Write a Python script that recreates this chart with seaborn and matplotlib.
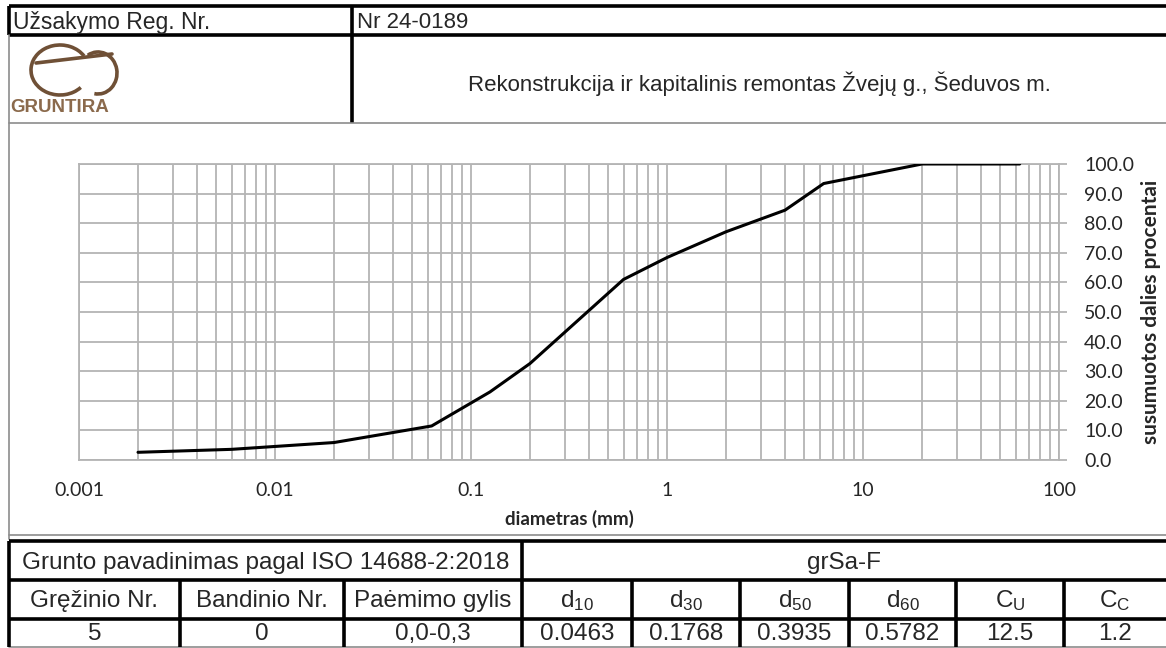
import matplotlib.pyplot as plt
from matplotlib.patches import Arc
from matplotlib.ticker import FixedLocator, LogLocator, FuncFormatter, NullFormatter
import seaborn as sns
import pandas as pd

W, H = 1166, 648

# grain size curve
sizes = [0.002, 0.006, 0.02, 0.063, 0.125, 0.2, 0.6, 1, 2, 4, 6.3, 20, 63]
passing = [2.6, 3.6, 5.9, 11.5, 23.0, 32.6, 61.0, 68.4, 77.1, 84.4, 93.4, 100.0, 100.0]

x_ticks = [0.001, 0.01, 0.1, 1, 10, 100]
y_ticks = [0, 10, 20, 30, 40, 50, 60, 70, 80, 90, 100]

# header / table texts
order_label = "Užsakymo Reg. Nr."
order_no = "Nr 24-0189"
project = "Rekonstrukcija ir kapitalinis remontas Žvejų g., Šeduvos m."
soil_label = "Grunto pavadinimas pagal ISO 14688-2:2018"
soil_name = "grSa-F"
col_headers = ["Gręžinio Nr.", "Bandinio Nr.", "Paėmimo gylis",
               "d$_{10}$", "d$_{30}$", "d$_{50}$", "d$_{60}$", "C$_{U}$", "C$_{C}$"]
col_values = ["5", "0", "0,0-0,3", "0.0463", "0.1768", "0.3935", "0.5782", "12.5", "1.2"]

sns.set_theme(style='white')
plt.rcParams['font.family'] = ['Liberation Sans', 'DejaVu Sans']
plt.rcParams['mathtext.fontset'] = 'custom'
plt.rcParams['mathtext.rm'] = 'Liberation Sans'
plt.rcParams['mathtext.it'] = 'Liberation Sans'

fig = plt.figure(figsize=(W / 100, H / 100), dpi=100)
fig.patch.set_facecolor('white')

# overlay in pixel coordinates for the report frame
ov = fig.add_axes([0, 0, 1, 1])
ov.set_xlim(0, W)
ov.set_ylim(H, 0)
ov.axis('off')

thick = dict(color='black', lw=2.6, solid_capstyle='butt')
thin = dict(color='#8c8c8c', lw=1.2)

# header
ov.plot([9, W], [6, 6], **thick)
ov.plot([9, W], [35, 35], **thick)
ov.plot([9, 9], [6, 35], **thick)
ov.plot([352, 352], [6, 123], **thick)
ov.plot([9, W], [123, 123], **thin)
ov.plot([9, 9], [35, 539], **thin)
ov.plot([9, W], [535, 535], **thin)
ov.text(13, 22, order_label, fontsize=16.5, va='center', ha='left')
ov.text(357, 22, order_no, fontsize=16, va='center', ha='left')
ov.text(759, 84, project, fontsize=16, va='center', ha='center')

# logo
brown = '#6f5036'
ov.add_patch(Arc((60, 70), 58, 50, theta1=40, theta2=330, color=brown, lw=2.6))
ov.add_patch(Arc((98, 73), 38, 42, theta1=-120, theta2=100, color=brown, lw=2.6))
ov.plot([36, 112], [63, 54], color=brown, lw=2.6)
ov.text(10, 107, "GRUNTIRA", fontsize=13.5, fontweight='bold', color='#8b6a4c',
        va='center', ha='left')

# bottom table
edges = [9, 180, 344, 522, 632, 740, 849, 956, 1064, W]
ov.plot([9, W], [541, 541], **thick)
ov.plot([9, W], [580, 580], **thick)
ov.plot([9, W], [619, 619], **thick)
ov.plot([9, W], [647, 647], **thin)
ov.plot([9, 9], [541, 647], **thick)
ov.plot([522, 522], [541, 580], **thick)
for xe in edges[1:-1]:
    ov.plot([xe, xe], [580, 647], **thick)
ov.text((9 + 522) / 2, 563, soil_label, fontsize=17.5, va='center', ha='center')
ov.text((522 + W) / 2, 563, soil_name, fontsize=17.5, va='center', ha='center')
for i, (hdr, val) in enumerate(zip(col_headers, col_values)):
    xc = (edges[i] + edges[i + 1]) / 2
    ov.text(xc, 601, hdr, fontsize=17.5, va='center', ha='center')
    ov.text(xc, 634, val, fontsize=17.5, va='center', ha='center')

# chart
ax = fig.add_axes([79 / W, (H - 460) / H, 980 / W, 296 / H])
df = pd.DataFrame({'d': sizes, 'p': passing})
sns.lineplot(data=df, x='d', y='p', ax=ax, color='black', lw=2.2, zorder=5)
ax.set_xscale('log')
ax.set_xlim(0.001, 100)
ax.set_ylim(0, 100)

grid_c = '#b4b4b4'
ax.xaxis.set_major_locator(FixedLocator(x_ticks))
ax.xaxis.set_minor_locator(LogLocator(base=10, subs=range(2, 10), numticks=20))
ax.xaxis.set_major_formatter(FuncFormatter(lambda v, p: '{:g}'.format(v)))
ax.xaxis.set_minor_formatter(NullFormatter())
ax.set_yticks(y_ticks)
ax.yaxis.set_major_formatter(FuncFormatter(lambda v, p: '{:.1f}'.format(v)))
ax.yaxis.tick_right()
ax.yaxis.set_label_position('right')
ax.grid(which='both', axis='x', color=grid_c, lw=1.3)
ax.grid(which='major', axis='y', color=grid_c, lw=1.3)
for s in ax.spines.values():
    s.set_color(grid_c)
    s.set_linewidth(1.3)
ax.tick_params(axis='x', which='major', direction='out', length=6, width=1.3,
               color=grid_c, pad=10, labelsize=14, labelfontfamily='Lato')
ax.tick_params(axis='x', which='minor', length=0)
ax.tick_params(axis='y', which='major', direction='out', length=6, width=1.3,
               color=grid_c, pad=12, labelsize=14, labelfontfamily='Lato',
               right=True, left=False)
ax.set_xlabel('diametras (mm)', fontsize=13.5, fontweight='bold', family='Lato', labelpad=8)
ax.set_ylabel('susumuotos dalies procentai', fontsize=15, fontweight='bold',
              family='Lato', labelpad=5)

fig.savefig('out.png', dpi=100, facecolor='white')
